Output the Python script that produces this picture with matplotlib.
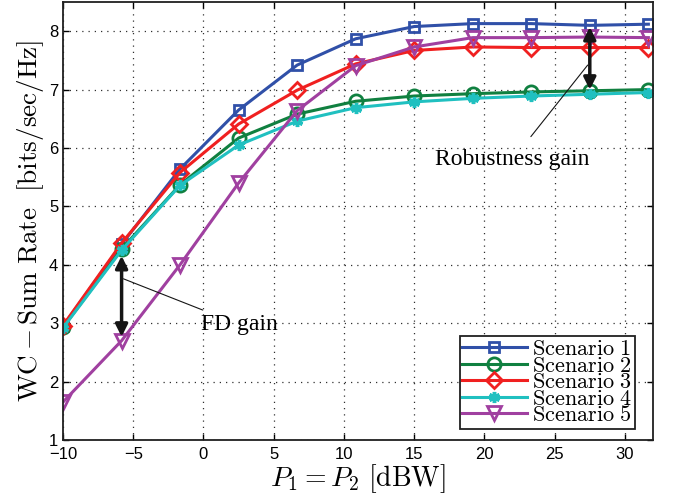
import matplotlib
matplotlib.use("Agg")
import matplotlib.pyplot as plt
import numpy as np

x = [-10, -5.83, -1.67, 2.5, 6.67, 10.83, 15, 19.17, 23.33, 27.5, 31.67]
s1 = [2.95, 4.35, 5.64, 6.65, 7.42, 7.87, 8.08, 8.13, 8.13, 8.10, 8.12]
s2 = [2.93, 4.27, 5.37, 6.17, 6.58, 6.80, 6.89, 6.93, 6.96, 6.98, 7.00]
s3 = [2.96, 4.37, 5.58, 6.41, 6.99, 7.44, 7.67, 7.73, 7.72, 7.72, 7.72]
s4 = [2.92, 4.25, 5.36, 6.05, 6.46, 6.69, 6.79, 6.85, 6.89, 6.92, 6.95]
s5 = [1.65, 2.70, 4.00, 5.40, 6.64, 7.41, 7.73, 7.89, 7.89, 7.90, 7.89]
labels = ["Scenario 1", "Scenario 2", "Scenario 3", "Scenario 4", "Scenario 5"]
xticks = [-10, -5, 0, 5, 10, 15, 20, 25, 30]
yticks = [1, 2, 3, 4, 5, 6, 7, 8]

plt.rcParams['mathtext.fontset'] = 'cm'
plt.rcParams['font.family'] = ['Liberation Sans', 'DejaVu Sans']

fig = plt.figure(figsize=(6.76, 5.01), dpi=100)
ax = fig.add_axes([0.0932, 0.1218, 0.8728, 0.8742])

colors = ['#3050a8', '#108040', '#f02020', '#20c0c0', '#a040a0']
markers = ['s', 'o', 'D', (6, 2, 0), 'v']
msizes = [7.5, 9.5, 8.5, 8, 10]
series = [s1, s2, s3, s4, s5]
for s, c, m, ms, lab in zip(series, colors, markers, msizes, labels):
    ax.plot(x, s, color=c, marker=m, markersize=ms, markerfacecolor='none' if m != (6, 2, 0) else c,
            markeredgewidth=2.0 if m != (6, 2, 0) else 2.5, linewidth=2.2,
            label=r'$\mathrm{' + lab.replace(' ', r'\ ') + '}$')

ax.set_xlim(-10, 32)
ax.set_ylim(1, 8.5)
ax.set_xticks(xticks)
ax.set_yticks(yticks)
ax.set_xticklabels([str(t).replace('-', '\u2212') for t in xticks], fontsize=12)
ax.set_yticklabels([str(t) for t in yticks], fontsize=12)
ax.tick_params(direction='in', top=True, right=True, length=4, width=1)
ax.tick_params(axis='x', pad=5)
for sp in ax.spines.values():
    sp.set_linewidth(1.3)
    sp.set_color('#202020')
ax.grid(True, color='#303030', linestyle=(0, (1, 4)), linewidth=0.9)

ax.set_xlabel(r'$P_1 = P_2\ [\mathrm{dBW}]$', fontsize=20, labelpad=0)
ax.set_ylabel(r'$\mathrm{WC} - \mathrm{Sum\ Rate}\ \ [\mathrm{bits/sec/Hz}]$', fontsize=19.5, labelpad=2)

# FD gain arrow
ax.annotate('', xy=(-5.83, 2.72), xytext=(-5.83, 4.2),
            arrowprops=dict(arrowstyle='<|-|>', color='#151515', lw=2.5, mutation_scale=18))
ax.annotate('FD gain', xy=(-5.7, 3.76), xytext=(-0.2, 2.98),
            fontsize=17, family='Liberation Serif', va='center', ha='left',
            arrowprops=dict(arrowstyle='-', color='#151515', lw=0.8, shrinkA=2, shrinkB=0))
# Robustness gain arrow
ax.annotate('', xy=(27.5, 6.95), xytext=(27.5, 8.12),
            arrowprops=dict(arrowstyle='<|-|>', color='#151515', lw=2.5, mutation_scale=18))
ax.annotate('Robustness gain', xy=(27.35, 7.42), xytext=(22.0, 5.8),
            fontsize=17, family='Liberation Serif', va='center', ha='center',
            arrowprops=dict(arrowstyle='-', color='#151515', lw=0.8, shrinkA=9, shrinkB=0))

leg = ax.legend(loc='lower right', fontsize=16, frameon=True, fancybox=False,
                edgecolor='#202020', framealpha=1, borderpad=0.12, labelspacing=-0.2,
                handlelength=2.9, handletextpad=0.25, borderaxespad=0.4,
                bbox_to_anchor=(0.985, 0.005))
leg.get_frame().set_linewidth(1.3)

fig.savefig('out.png', dpi=100)
